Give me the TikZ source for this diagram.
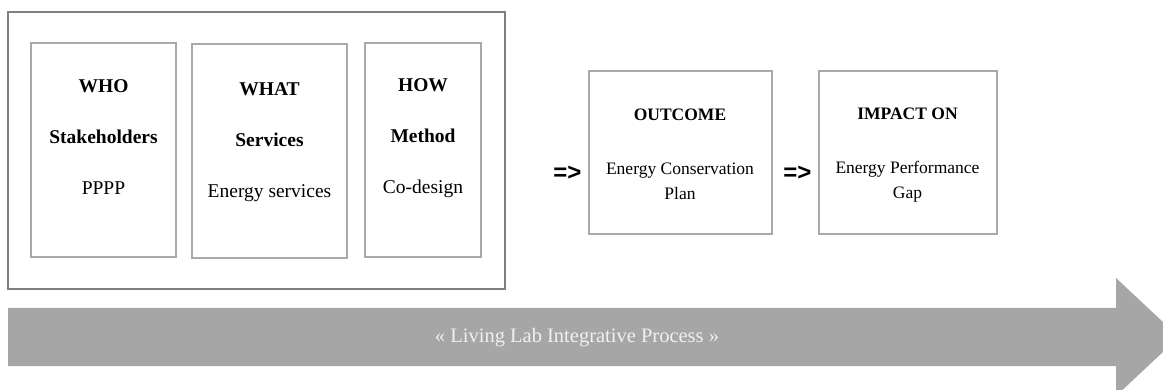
\documentclass[tikz,border=0pt]{standalone}
\usepackage{fontspec}
\setmainfont{Liberation Serif}
\newfontfamily\signfont{Liberation Sans}
\usepackage{xcolor}
\usepackage{tikz}
\usetikzlibrary{positioning, fit, calc}
\definecolor{framegray}{HTML}{7F7F7F}
\definecolor{boxgray}{HTML}{A9A9A9}
\definecolor{bandgray}{HTML}{A6A6A6}
\tikzstyle{panel} = [rectangle, draw=boxgray, line width=2pt, minimum height=214pt, inner sep=0pt, outer sep=0pt]
\tikzstyle{result} = [rectangle, draw=boxgray, line width=2pt, minimum height=163pt, inner sep=0pt, outer sep=0pt]
\tikzstyle{paneltext} = [align=center, inner sep=0pt, font=\fontsize{19.5}{51}\selectfont]
\tikzstyle{resulttext} = [align=center, inner sep=0pt, font=\fontsize{17.5}{25}\selectfont]
\tikzstyle{sign} = [inner sep=0pt, font=\signfont\bfseries\fontsize{24}{24}\selectfont]

\begin{document}
\begin{tikzpicture}[x=1pt, y=1pt]
        \clip (0,0) rectangle (1163,-390);

        % three parts of the living lab
        \node (who) [panel, minimum width=145pt] at (103.5,-150) {};
        \node (what) [panel, minimum width=155pt, right=16pt of who, yshift=-1pt] {};
        \node (how) [panel, minimum width=116pt, right=18pt of what, yshift=1pt] {};
        \node (frame) [draw=framegray, line width=2pt, outer sep=0pt, inner xsep=23.5pt, inner ysep=31pt, fit=(who)(what)(how)] {};

        \node (whotext) [paneltext] at ($(who)+(0,13)$) {\textbf{WHO}\\ \textbf{Stakeholders}\\ PPPP};
        \node (whattext) [paneltext] at ($(what)+(0,9)$) {\textbf{WHAT}\\ \textbf{Services}\\ Energy services};
        \node (howtext) [paneltext] at ($(how)+(0,12)$) {\textbf{HOW}\\ \textbf{Method}\\ Co-design};

        % results
        \node (outcome) [result, minimum width=183pt, right=84pt of frame, yshift=-2.5pt] {};
        \node (impact) [result, minimum width=178pt, right=47pt of outcome] {};
        \node (outcometext) [resulttext] at ($(outcome)+(0,-1)$) {\textbf{OUTCOME}\\[29pt] Energy Conservation\\ Plan};
        \node (impacttext) [resulttext] at ($(impact)+(0,-2)$) {\textbf{IMPACT ON}\\[29pt] Energy Performance\\ Gap};

        \node (then1) [sign, left=7pt of outcome, yshift=-20pt] {=>};
        \node (then2) [sign, left=7pt of impact, yshift=-20pt] {=>};

        % process arrow
        \fill[bandgray] (8,-308) -- (1116,-308) -- (1116,-278) -- (1179,-337)
            -- (1116,-396) -- (1116,-366) -- (8,-366) -- cycle;
        \node (process) [inner sep=0pt, text=white!94!black, font=\fontsize{20.5}{20.5}\selectfont] at (577,-338) {« Living Lab Integrative Process »};
    \end{tikzpicture}
\end{document}
